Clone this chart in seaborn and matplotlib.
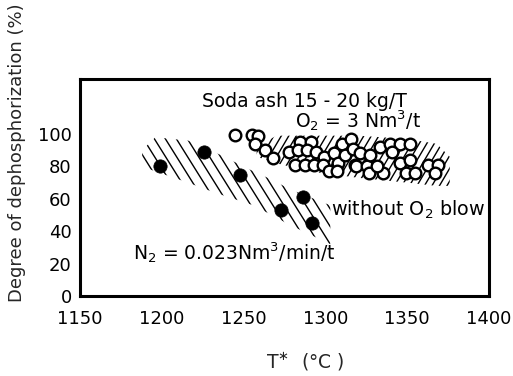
import numpy as np
import pandas as pd
import matplotlib
matplotlib.use("Agg")
import matplotlib.pyplot as plt
from matplotlib.patches import Polygon
from matplotlib.collections import LineCollection
import seaborn as sns

# Runs with N2 stirring (no O2 blow)
n2_temp = [1199, 1225.5, 1248, 1273, 1286.5, 1292]
n2_dephos = [80.5, 89, 75, 53, 61, 45]

# Runs with O2 = 3 Nm3/t
o2_temp = [1245, 1255, 1259, 1257, 1263, 1268, 1277.5, 1284.5, 1283.5, 1291,
           1289, 1294, 1281.5, 1287.5, 1293, 1299, 1298.5, 1302, 1305, 1308,
           1307, 1310, 1312, 1315.5, 1317, 1318, 1321, 1319, 1325.5, 1327,
           1326.5, 1333.5, 1339.5, 1345.5, 1352, 1340.5, 1345.5, 1352, 1349,
           1335.5, 1355, 1363, 1369, 1367, 1331.5]
o2_dephos = [99.5, 99.5, 99, 94, 90, 85, 89, 95, 90, 95,
             90, 89, 81, 81, 81, 86, 81, 77, 88, 82,
             77, 94, 87, 97, 91, 81, 88, 80, 80, 87,
             76, 92, 94, 94, 94, 89, 82, 84, 76,
             76, 76, 81, 81, 76, 80]

# Scatter bands (upper / lower envelopes)
band_n2_T = [1188, 1196, 1216, 1232, 1256, 1269, 1278, 1303]
band_n2_hi = [90, 98, 96, 89, 77, 71, 66, 56]
band_n2_lo = [80, 77, 70, 64, 56, 49, 44, 32]

band_o2_T = [1258, 1270, 1290, 1320, 1350, 1368, 1376]
band_o2_hi = [92, 99, 99, 99, 97, 94, 86]
band_o2_lo = [86, 82, 77, 73, 70, 68, 68]

x_ticks = [1150, 1200, 1250, 1300, 1350, 1400]
y_ticks = [0, 20, 40, 60, 80, 100]

sns.set_theme(style="white")
plt.rcParams["font.family"] = ["DejaVu Sans"]

W, H, DPI = 5.13, 3.76, 100
fig = plt.figure(figsize=(W, H), dpi=DPI)
ax_l, ax_b, ax_w, ax_h = 80 / 513, 80 / 376, 409 / 513, 217 / 376
ax = fig.add_axes([ax_l, ax_b, ax_w, ax_h])
xlim, ylim = (1150, 1400), (0, 134)
ax.set_xlim(*xlim)
ax.set_ylim(*ylim)

# pixels per data unit, used to set hatch angles in screen space
sx = ax_w * W * DPI / (xlim[1] - xlim[0])
sy = ax_h * H * DPI / (ylim[1] - ylim[0])


def hatch_band(T, lo, hi, slope_px, step_px):
    verts = list(zip(T, hi)) + list(zip(T[::-1], lo[::-1]))
    patch = Polygon(verts, closed=True, facecolor="none", edgecolor="none")
    ax.add_patch(patch)
    m = slope_px * sx / sy
    step = step_px / sx
    segs = []
    for x0 in np.arange(1000, 1600, step):
        ya, yb = -50.0, 200.0
        segs.append([(x0 + ya / m, ya), (x0 + yb / m, yb)])
    lc = LineCollection(segs, colors="black", linewidths=1.0, zorder=1)
    ax.add_collection(lc)
    lc.set_clip_path(patch)


# "\" hatching for the N2 band, "/" hatching for the O2 band
hatch_band(band_n2_T, band_n2_lo, band_n2_hi, -1.6, 11.0)
hatch_band(band_o2_T, band_o2_lo, band_o2_hi, 1.7, 7.5)

df_n2 = pd.DataFrame({"T": n2_temp, "D": n2_dephos})
df_o2 = pd.DataFrame({"T": o2_temp, "D": o2_dephos})
sns.scatterplot(data=df_o2, x="T", y="D", ax=ax, s=70, facecolor="white",
                edgecolor="black", linewidth=1.7, zorder=3)
sns.scatterplot(data=df_n2, x="T", y="D", ax=ax, s=92, color="black",
                edgecolor="black", linewidth=0.5, zorder=4)

ax.set_xlim(*xlim)
ax.set_ylim(*ylim)
ax.set_xticks(x_ticks)
ax.set_yticks(y_ticks)
ax.tick_params(direction="in", length=7, width=1.2, colors="black",
               labelsize=13)
ax.tick_params(axis="x", pad=10)
ax.tick_params(axis="y", pad=6)
for sp in ax.spines.values():
    sp.set_visible(True)
    sp.set_color("black")
    sp.set_linewidth(2.2)

ax.set_xlabel(r"T$^{\ast}$  (°C )", fontsize=13.5)
ax.set_ylabel("Degree of dephosphorization (%)", fontsize=13)
ax.xaxis.set_label_coords(0.55, -0.255)
ax.yaxis.set_label_coords(-0.132, 0.659)

txt = dict(fontsize=13.5, color="black", va="center", ha="left")
ax.text(1224.3, 120.4, "Soda ash 15 - 20 kg/T", **txt)
ax.text(1281.7, 108.6, r"O$_2$ = 3 Nm$^3$/t", **txt)
ax.text(1303.7, 53, r"without O$_2$ blow", fontsize=13.8, color="black",
        va="center", ha="left")
ax.text(1182.7, 27, r"N$_2$ = 0.023Nm$^3$/min/t", **txt)

fig.savefig("out.png", dpi=DPI)
